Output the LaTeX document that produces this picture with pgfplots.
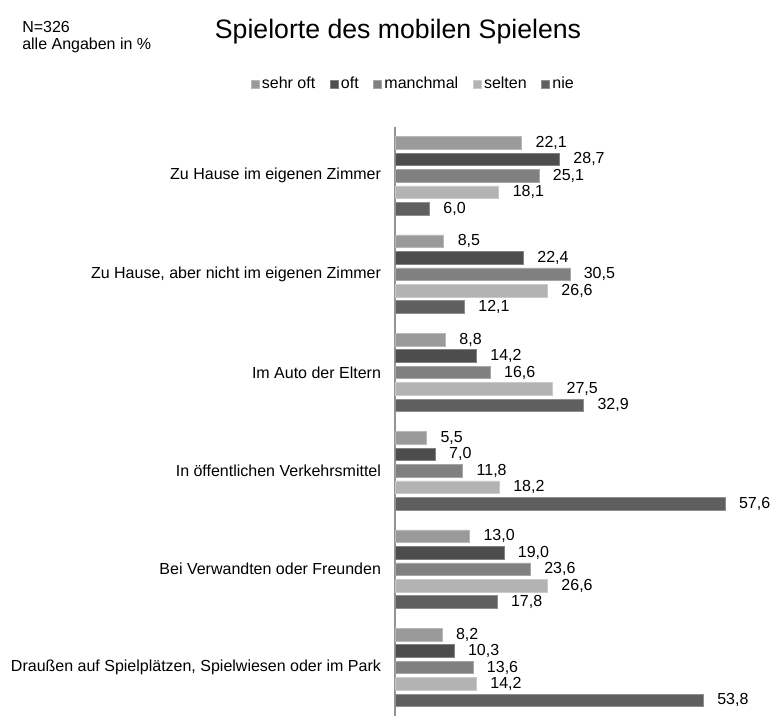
\documentclass[border=0pt]{standalone}
\usepackage{pgfplots}
\pgfplotsset{compat=1.18}
\usepackage{fontspec}
\setmainfont{Liberation Sans}
\definecolor{cA}{HTML}{9A9A9A}
\definecolor{cB}{HTML}{4D4D4D}
\definecolor{cC}{HTML}{808080}
\definecolor{cD}{HTML}{B3B3B3}
\definecolor{cE}{HTML}{5F5F5F}
\begin{document}
\begin{tikzpicture}
\path[use as bounding box] (0,0) rectangle (579.75pt,-536.25pt);
\node[anchor=base west,inner sep=0pt,font=\fontsize{12}{12.5}\selectfont,align=left] at (16.5pt,-24.2pt) {N=326};
\node[anchor=base west,inner sep=0pt,font=\fontsize{12}{12.5}\selectfont,align=left] at (16.5pt,-36.8pt) {alle Angaben in \%};
\node[anchor=base,inner sep=0pt,font=\fontsize{20}{24}\selectfont] at (298.5pt,-28.7pt) {Spielorte des mobilen Spielens};
\begin{axis}[
  at={(296.25pt,-537.45pt)}, anchor=south west,
  scale only axis, width=257.85pt, height=442.5pt,
  xbar, bar width=9.4pt,
  xmin=0, xmax=60,
  ymin=-0.5, ymax=5.5, y dir=reverse,
  axis x line=none,
  axis y line*=left,
  y axis line style={-, draw=gray!85, line width=1pt},
  ytick={0,...,5},
  major tick length=0pt,
  yticklabels={Zu Hause im eigenen Zimmer, {Zu Hause, aber nicht im eigenen Zimmer}, Im Auto der Eltern, In öffentlichen Verkehrsmittel, Bei Verwandten oder Freunden, {Draußen auf Spielplätzen, Spielwiesen oder im Park}},
  yticklabel style={font=\fontsize{12}{14}\selectfont, xshift=-7pt},
  /pgf/number format/assume math mode=true,
  nodes near coords={\pgfmathprintnumber[fixed,fixed zerofill,precision=1,use comma]{\pgfplotspointmeta}},
  every node near coord/.append style={font=\fontsize{12}{14}\selectfont, xshift=7pt},
  legend columns=5,
  legend style={draw=none, at={(0.054,1.0725)}, anchor=center, font=\fontsize{12}{14}\selectfont,
    /tikz/every even column/.append style={column sep=8.9pt}, inner sep=0pt,
    nodes={inner xsep=2pt}},
  legend image code/.code={\fill[#1] (0pt,-3pt) rectangle (6pt,3pt);},
  legend cell align=left,
]
\addplot[fill=cA, draw=cA!70!white, bar shift=24.68pt] coordinates {(22.1,0) (8.5,1) (8.8,2) (5.5,3) (13.0,4) (8.2,5)};
\addplot[fill=cB, draw=cB!70!white, bar shift=12.34pt] coordinates {(28.7,0) (22.4,1) (14.2,2) (7.0,3) (19.0,4) (10.3,5)};
\addplot[fill=cC, draw=cC!70!white, bar shift=0pt] coordinates {(25.1,0) (30.5,1) (16.6,2) (11.8,3) (23.6,4) (13.6,5)};
\addplot[fill=cD, draw=cD!70!white, bar shift=-12.34pt] coordinates {(18.1,0) (26.6,1) (27.5,2) (18.2,3) (26.6,4) (14.2,5)};
\addplot[fill=cE, draw=cE!70!white, bar shift=-24.68pt] coordinates {(6.0,0) (12.1,1) (32.9,2) (57.6,3) (17.8,4) (53.8,5)};
\legend{sehr oft, oft, manchmal, selten, nie}
\end{axis}
\end{tikzpicture}
\end{document}
